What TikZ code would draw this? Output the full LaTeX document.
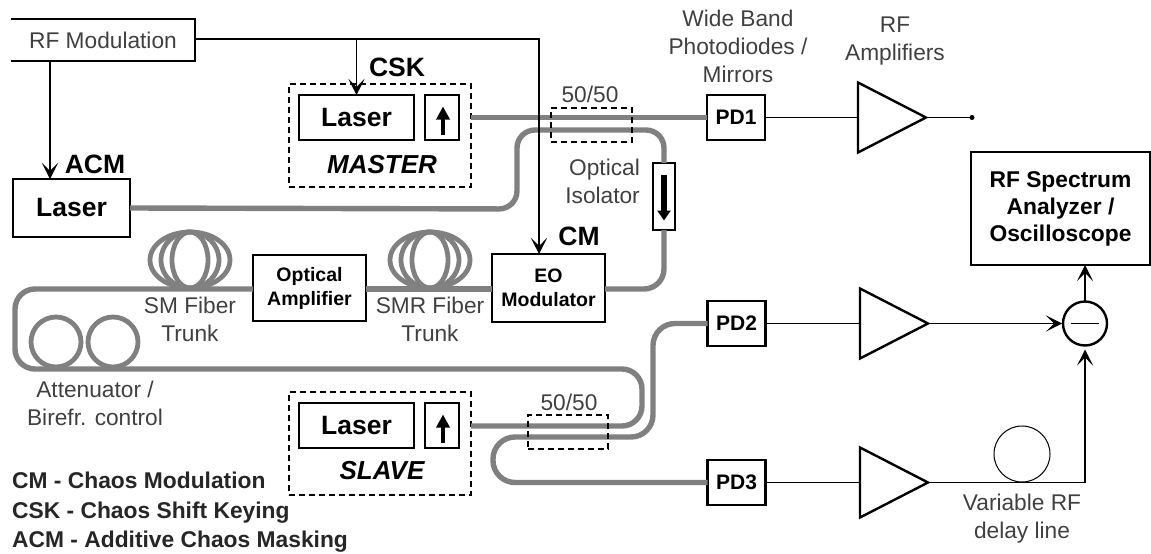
\documentclass[tikz,border=0pt]{standalone}
\usepackage{fontspec}
\setmainfont{Liberation Sans}
\usetikzlibrary{arrows.meta,calc}
\definecolor{fibergray}{HTML}{808080}
\definecolor{labelgray}{HTML}{404040}
\newcommand{\fs}[2]{\fontsize{#1}{#2}\selectfont}
\tikzset{
  box/.style={draw=black,line width=2.4pt,fill=white,inner sep=0pt,outer sep=0pt,align=center,font=\bfseries\fs{21}{24}},
  bigbox/.style={box,font=\bfseries\fs{26.5}{30}},
  tribox/.style={inner sep=0pt,outer sep=0pt,minimum width=68pt,minimum height=70pt},
  amp/.style={draw=black,line width=2.4pt,line join=miter},
  dashbox/.style={draw=black,line width=1.3pt,dash pattern=on 6pt off 4pt,inner sep=0pt,outer sep=0pt},
  fiber/.style={draw=fibergray,line width=5.4pt},
  coil/.style={draw=fibergray,line width=4.8pt},
  sig/.style={draw=black,line width=1.4pt},
  sigarrow/.style={sig,-{Stealth[length=16pt,width=16pt,inset=8pt]}},
  isoarrow/.style={draw=black,line width=4.2pt,-{Triangle[length=13pt,width=13pt]}},
  lab/.style={text=labelgray,align=center,inner sep=0pt,font=\fs{22.7}{28}},
  tag/.style={inner sep=0pt,font=\bfseries\fs{26.5}{30}},
  legend/.style={inner sep=0pt,anchor=west,text=black!85,font=\bfseries\fs{22.8}{26}},
}
\begin{document}
\begin{tikzpicture}[x=1pt,y=-1pt]
\useasboundingbox (0,0) rectangle (1151,554);
% fibre coils
\foreach \cx in {190,430}{
  \draw[coil] (\cx,260) ellipse [x radius=18,y radius=28];
  \draw[coil] (\cx,260) ellipse [x radius=29,y radius=28];
  \draw[coil] (\cx,260) ellipse [x radius=40,y radius=28];
}
\draw[coil] (56,342) circle (25);
\draw[coil] (113,342) circle (25);
% RF modulation
\node[inner sep=0pt,outer sep=0pt,minimum width=184pt,minimum height=42pt,text=labelgray,font=\fs{22.7}{24}] (rf) at (103,40) {RF Modulation};
\draw[line width=1.4pt] (rf.north west) -- (rf.north east) -- (rf.south east) -- (rf.south west);
% master
\node[dashbox,minimum width=182pt,minimum height=103pt] (mbox) at (380,135.5) {};
\node[bigbox,minimum width=115pt,minimum height=45pt] (mlaser) at (356.5,117.5) {Laser};
\node[box,minimum width=34pt,minimum height=45pt] (miso) at (442,117.5) {};
\node[inner sep=0pt,font=\bfseries\itshape\fs{26}{30}] (mname) at (382,165) {MASTER};
% slave
\node[dashbox,minimum width=182pt,minimum height=103pt] (sbox) at (380,443.5) {};
\node[bigbox,minimum width=115pt,minimum height=45pt] (slaser) at (356.5,425.5) {Laser};
\node[box,minimum width=34pt,minimum height=45pt] (siso) at (442,425.5) {};
\node[inner sep=0pt,font=\bfseries\itshape\fs{26}{30}] (sname) at (382,471) {SLAVE};
% other boxes
\node[bigbox,minimum width=117pt,minimum height=58pt] (acm) at (71.5,208) {Laser};
\node[box,minimum width=113pt,minimum height=66pt,font=\bfseries\fs{19.5}{24}] (oa) at (309.5,288) {Optical\\Amplifier};
\node[box,minimum width=113pt,minimum height=68pt,font=\bfseries\fs{19.5}{24}] (eo) at (548.5,288) {EO\\Modulator};
\node[box,minimum width=22pt,minimum height=67pt] (oiso) at (664,196.5) {};
\node[box,minimum width=58pt,minimum height=45pt] (pd1) at (736,117.5) {PD1};
\node[box,minimum width=58pt,minimum height=45pt] (pd2) at (736.5,323.5) {PD2};
\node[box,minimum width=58pt,minimum height=45pt] (pd3) at (736.5,482.5) {PD3};
\node[box,minimum width=179pt,minimum height=113pt,font=\bfseries\fs{22.8}{27}] (sa) at (1060.5,208.5) {RF Spectrum\\Analyzer /\\Oscilloscope};
% amplifiers
\node[tribox] (a1) at (892,117.5) {};
\node[tribox] (a2) at (894,323.5) {};
\node[tribox] (a3) at (894,482.5) {};
\foreach \a in {a1,a2,a3}
  \draw[amp] (\a.north west) -- (\a.east) -- (\a.south west) -- cycle;
% summer and delay
\node[draw=black,line width=2.4pt,circle,minimum size=44pt,inner sep=0pt,outer sep=0pt] (sum) at (1085,323.5) {};
\draw[line width=1.4pt] ($(sum.center)+(-14,0)$) -- ($(sum.center)+(14,0)$);
\node[draw=black,line width=1pt,circle,minimum size=56pt,inner sep=0pt,outer sep=0pt] (delay) at (1022,454) {};
\node[circle,fill=black,minimum size=5pt,inner sep=0pt,outer sep=0pt] (dot1) at (972,117.5) {};
% coupler outlines
\coordinate (c1) at (591.5,125);
\coordinate (c2) at (568,432);
% fibres
\coordinate (t1) at (517,209);
\coordinate (t2) at (517,130);
\coordinate (t3) at (664,130);
\draw[fiber] (mbox.east |- mlaser.east) -- (pd1.west);
\draw[fiber,rounded corners=18pt] (acm.east) -- (t1) -- (t2) -- (t3) -- (oiso.north);
\coordinate (t4) at (664,289);
\draw[fiber,rounded corners=20pt] (oiso.south) -- (t4) -- (eo.east |- t4);
\draw[fiber] (oa.east |- t4) -- (eo.west |- t4);
\coordinate (l1) at (15,289);
\coordinate (l2) at (15,369);
\coordinate (l3) at (642,369);
\coordinate (l4) at (642,426);
\draw[fiber,rounded corners=20pt] (oa.west |- l1) -- (l1) -- (l2) -- (l3) -- (l4) -- (sbox.east |- l4);
\coordinate (p1) at (653,323.5);
\coordinate (p2) at (653,437);
\coordinate (p3) at (493,437);
\coordinate (p4) at (493,482.5);
\draw[fiber,rounded corners=22pt] (pd2.west) -- (p1) -- (p2) -- (p3) -- (p4) -- (pd3.west);
% couplers above fibres
\node[dashbox,minimum width=81pt,minimum height=34pt] (k1) at (c1) {};
\node[dashbox,minimum width=80pt,minimum height=34pt] (k2) at (c2) {};
% isolator arrows
\draw[isoarrow] ($(miso.center)+(1,17)$) -- ($(miso.center)+(1,-11)$);
\draw[isoarrow] ($(siso.center)+(1,17)$) -- ($(siso.center)+(1,-11)$);
\draw[draw=black,line width=6.5pt,-{Triangle[length=10pt,width=13pt]}] ($(oiso.center)+(0,-22)$) -- ($(oiso.center)+(0,24)$);
% RF signal lines
\coordinate (acmtop) at (50,179);
\coordinate (eotop) at (539,254);
\coordinate (rfa) at (50,61);
\coordinate (rfb) at (195,39);
\draw[sigarrow] (rfa) -- (acmtop);
\draw[sigarrow] (rfb) -| (mlaser.north);
\draw[sigarrow] (rfb) -| (eotop);
\draw[sig] (pd1.east) -- (a1.west);
\draw[sig] (a1.east) -- (dot1);
\draw[sig] (pd2.east) -- (a2.west);
\draw[sigarrow] (a2.east) -- ($(sum.west)+(-1,0)$);
\draw[sig] (pd3.east) -- (a3.west);
\draw[sigarrow] (a3.east) -| ($(sum.south)+(0,4)$);
\draw[sigarrow] (sum.north) -- (sa.south -| sum.north);
% labels
\node[tag] (tacm) at (95,164) {ACM};
\node[tag] (tcsk) at (397,67) {CSK};
\node[tag] (tcm) at (579,236) {CM};
\node[lab] (n5a) at (590,94) {50/50};
\node[lab] (n5b) at (569,402) {50/50};
\node[lab,align=right,anchor=east] (nop) at (640,181) {Optical\\Isolator};
\node[lab] (nwb) at (738,46) {Wide Band\\Photodiodes /\\Mirrors};
\node[lab] (nrf) at (895,41) {RF\\Amplifiers};
\node[lab] (nsm) at (190,319) {SM Fiber\\Trunk};
\node[lab] (nsr) at (430,319) {SMR Fiber\\Trunk};
\node[lab] (nat) at (95,403) {Attenuator /\\Birefr. control};
\node[lab] (nvd) at (1022,519) {Variable RF\\delay line};
\node[legend] (g1) at (12,480) {CM - Chaos Modulation};
\node[legend] (g2) at (12,513) {CSK - Chaos Shift Keying};
\node[legend] (g3) at (12,542) {ACM - Additive Chaos Masking};
\end{tikzpicture}
\end{document}
